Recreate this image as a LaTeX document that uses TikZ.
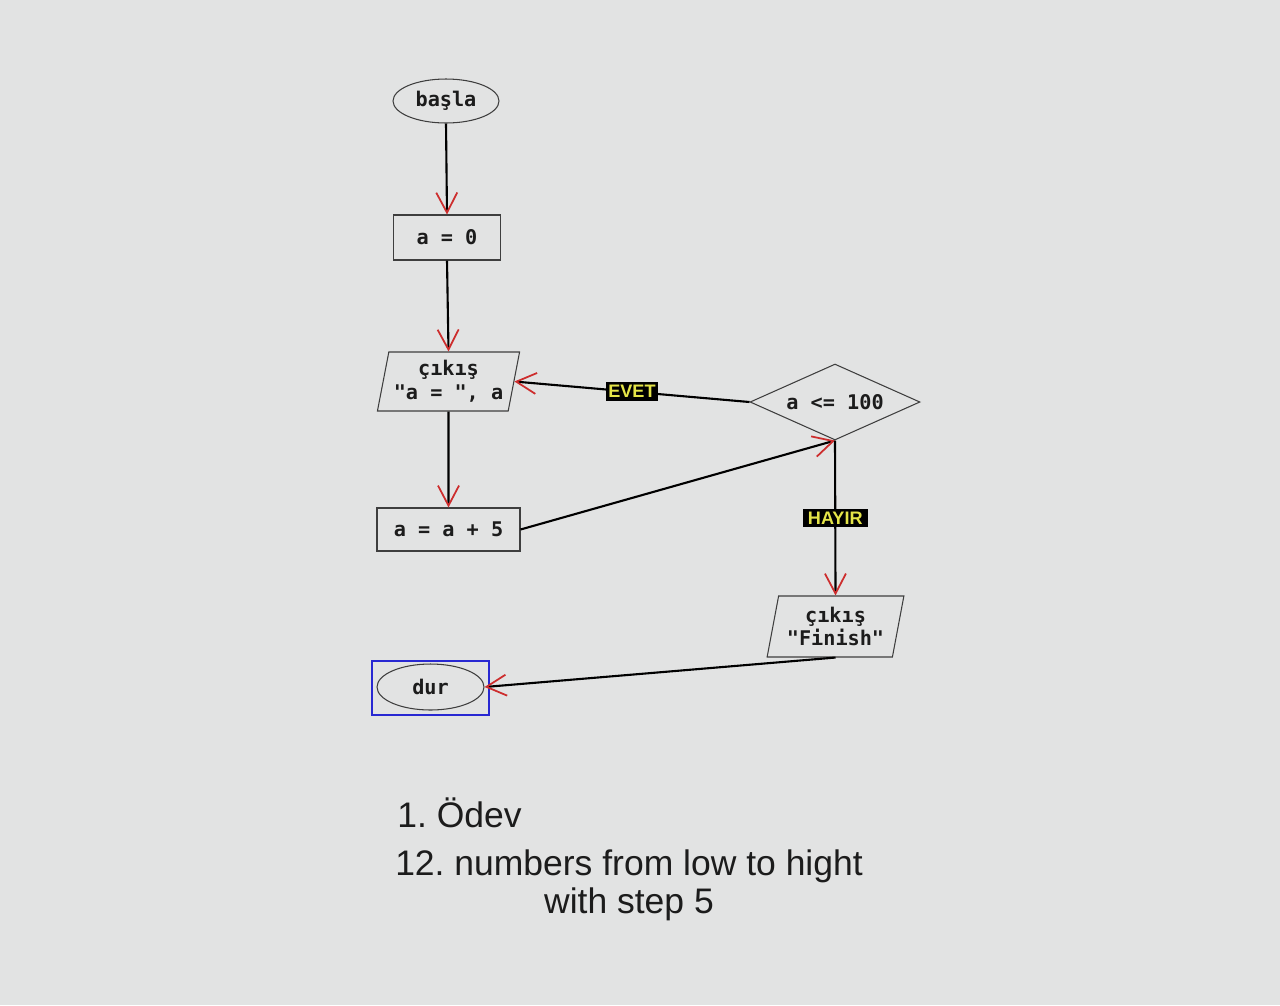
\documentclass[tikz,border=0pt]{standalone}
\usepackage{fontspec}
\setmainfont{Liberation Sans}
\setmonofont{DejaVu Sans Mono}
\usetikzlibrary{shapes.geometric,arrows.meta}
\definecolor{bg}{RGB}{226,227,227}
\definecolor{ink}{RGB}{28,28,28}
\definecolor{tipred}{RGB}{205,45,45}
\definecolor{lab}{RGB}{228,228,72}
\definecolor{frameblue}{RGB}{40,40,210}
\frenchspacing
\begin{document}
\begin{tikzpicture}[x=0.02cm,y=-0.02cm,
  flow/.style={draw=ink!85, line width=0.6pt, inner sep=0pt,
    font=\ttfamily\bfseries\fontsize{11.5}{13.5}\selectfont, text=ink, align=center},
  term/.style={flow, ellipse},
  proc/.style={flow, rectangle},
  io/.style={flow, trapezium, trapezium left angle=76, trapezium right angle=104,
    trapezium stretches=true},
  decision/.style={flow, diamond, aspect=2.24},
  conn/.style={draw=black, line width=1.2pt,
    -{Straight Barb[color=tipred, length=0.4cm, width=0.42cm, line width=1pt]}},
  tag/.style={fill=black, text=lab, font=\bfseries\fontsize{10.3}{11}\selectfont,
    inner xsep=1.5pt, inner ysep=1.8pt},
  note/.style={font=\fontsize{20.2}{21.5}\selectfont, text=ink, inner sep=0pt}]
  \fill[bg] (0,0) rectangle (1280,1005);

  \node[term, minimum width=2.12cm, minimum height=0.88cm] (basla) at (446,101) {başla};
  \node[proc, minimum width=2.14cm, minimum height=0.9cm] (a0) at (447,237.5) {a = 0};
  \node[io, minimum width=2.86cm, minimum height=1.18cm] (out1) at (448.5,381.5) {çıkış\\"a = ", a};
  \node[decision, minimum width=3.4cm, minimum height=1.52cm] (cond) at (835,402) {a <= 100};
  \node[proc, minimum width=2.86cm, minimum height=0.86cm] (inc) at (448.5,529.5) {a = a + 5};
  \node[io, minimum width=2.74cm, minimum height=1.22cm] (out2) at (835.5,626.5) {çıkış\\"Finish"};
  \node[term, minimum width=2.14cm, minimum height=0.92cm] (dur) at (430.5,687) {dur};
  \node[draw=frameblue, line width=1.2pt, minimum width=2.34cm, minimum height=1.08cm,
    inner sep=0pt] (durframe) at (430.5,688) {};

  \draw[conn] (basla.south) -- (a0.north);
  \draw[conn] (a0.south) -- (out1.north);
  \draw[conn] (out1.south) -- (inc.north);
  \draw[conn] (inc.east) -- (cond.south);
  \draw[conn] (cond.west) -- node[tag] {EVET} (out1.east);
  \draw[conn] (cond.south) -- node[tag, inner xsep=3pt] {HAYIR} (out2.north);
  \draw[conn] (out2.south) -- (dur.east);

  \node[note, anchor=base west] (t1) at (397,827) {1. Ödev};
  \node[note, anchor=base, align=center] (t2) at (629,913) {12. numbers from low to hight\\with step 5};
\end{tikzpicture}
\end{document}
